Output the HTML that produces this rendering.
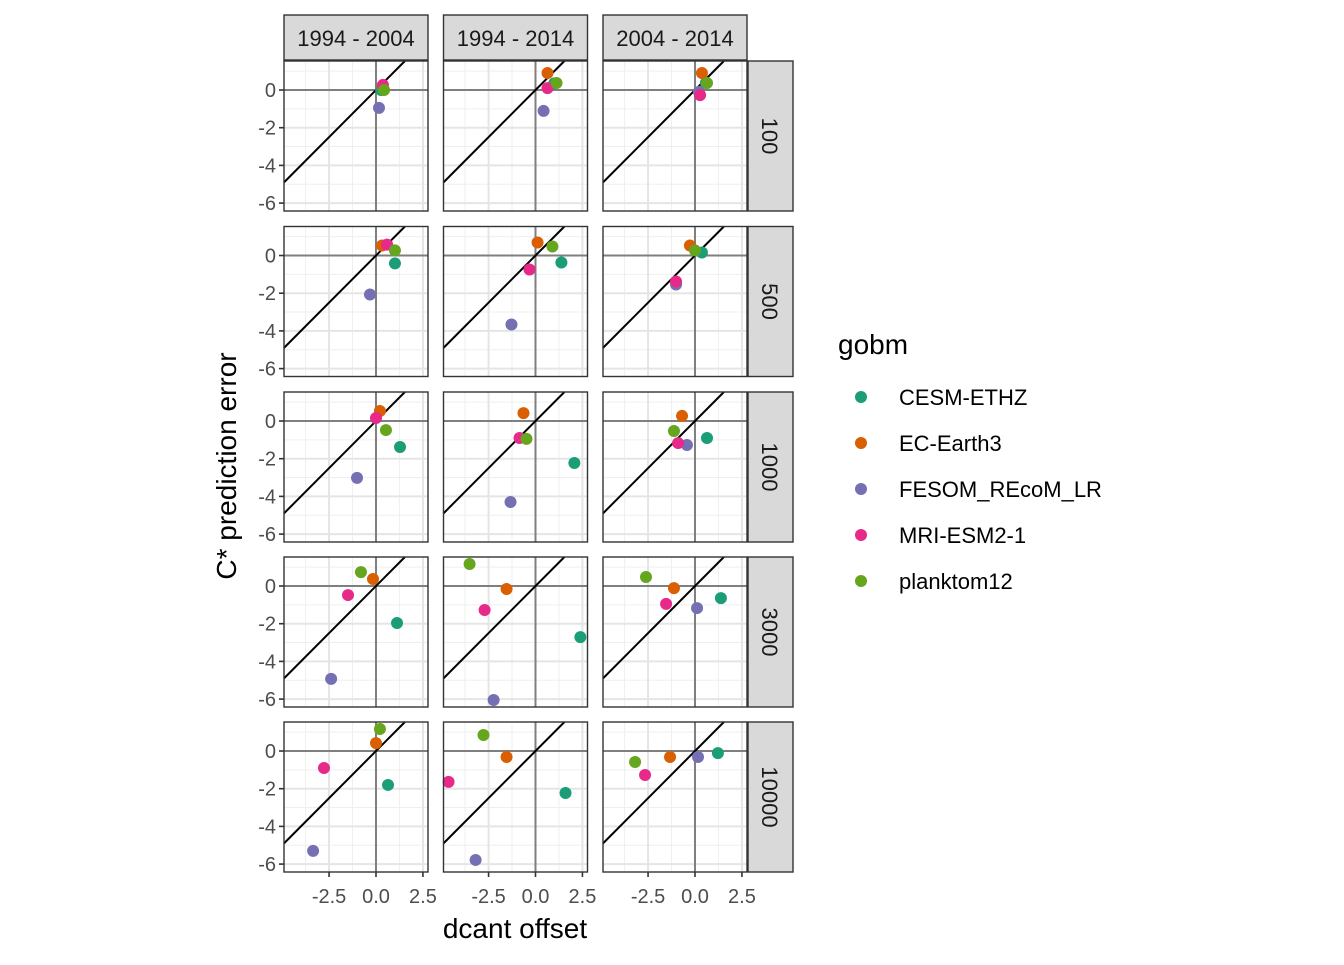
<!DOCTYPE html>
<html><head><meta charset="utf-8"><style>
body{margin:0;background:#fff;}
svg{font-family:"Liberation Sans",sans-serif;}
</style></head><body>
<svg id="chart" width="1344" height="960" xmlns="http://www.w3.org/2000/svg"></svg>
<script>
const gobms=["CESM-ETHZ","EC-Earth3","FESOM_REcoM_LR","MRI-ESM2-1","planktom12"];
const colors=["#1B9E77","#D95F02","#7570B3","#E7298A","#66A61E"];
const periods=["1994 - 2004","1994 - 2014","2004 - 2014"];
const depths=["100","500","1000","3000","10000"];
const xTicks=[-2.5,0,2.5];
const xTickLabels=["-2.5","0.0","2.5"];
const yTicks=[0,-2,-4,-6];
const yTickLabels=["0","-2","-4","-6"];
// xVals[depth][period][gobm], yVals likewise
const xVals=[
 [[0.27,0.35,0.16,0.37,0.43],[1.0,0.64,0.43,0.64,1.12],[0.58,0.37,0.21,0.27,0.64]],
 [[1.01,0.32,-0.32,0.59,1.01],[1.38,0.11,-1.28,-0.32,0.9],[0.37,-0.27,-1.01,-1.01,0.0]],
 [[1.28,0.21,-1.01,0.0,0.53],[2.07,-0.64,-1.33,-0.85,-0.48],[0.64,-0.69,-0.43,-0.9,-1.12]],
 [[1.12,-0.16,-2.39,-1.49,-0.8],[2.39,-1.54,-2.23,-2.71,-3.51],[1.38,-1.12,0.11,-1.54,-2.61]],
 [[0.64,0.0,-3.35,-2.77,0.21],[1.6,-1.54,-3.19,-4.63,-2.77],[1.22,-1.33,0.16,-2.66,-3.19]]
];
const yVals=[
 [[0.0,0.2,-0.95,0.27,0.0],[0.35,0.9,-1.11,0.1,0.37],[0.37,0.9,-0.1,-0.27,0.37]],
 [[-0.42,0.53,-2.07,0.58,0.27],[-0.37,0.69,-3.66,-0.74,0.48],[0.16,0.53,-1.54,-1.38,0.27]],
 [[-1.38,0.53,-3.02,0.16,-0.48],[-2.23,0.42,-4.3,-0.9,-0.95],[-0.9,0.27,-1.27,-1.17,-0.53]],
 [[-1.96,0.37,-4.93,-0.48,0.74],[-2.71,-0.16,-6.05,-1.27,1.17],[-0.64,-0.11,-1.17,-0.95,0.48]],
 [[-1.8,0.42,-5.3,-0.9,1.17],[-2.23,-0.32,-5.78,-1.64,0.85],[-0.11,-0.32,-0.32,-1.27,-0.58]]
];
const NS="http://www.w3.org/2000/svg";
const svg=document.getElementById("chart");
function mk(tag,attrs,parent,text){const e=document.createElementNS(NS,tag);for(const k in attrs)e.setAttribute(k,attrs[k]);if(text!==undefined)e.textContent=text;(parent||svg).appendChild(e);return e;}
const colX=[284,443.5,603],PW=144,rowY=[61,226.5,392,557,722],PH=150;
const xMin=-4.9,xMax=2.77,yMin=-6.42,yMax=1.54;
const sx=(c,v)=>colX[c]+(v-xMin)/(xMax-xMin)*PW;
const sy=(r,v)=>rowY[r]+(yMax-v)/(yMax-yMin)*PH;
for(let r=0;r<5;r++)for(let c=0;c<3;c++){
 const g=mk("g",{},svg);
 
 
 mk("rect",{x:colX[c],y:rowY[r],width:PW,height:PH,fill:"#fff"},g);
 for(const v of [-3.75,-1.25,1.25]){const X=sx(c,v);mk("line",{x1:X,x2:X,y1:rowY[r],y2:rowY[r]+PH,stroke:"#EFEFEF","stroke-width":1},g);}
 for(const v of [1,-1,-3,-5]){const Y=sy(r,v);mk("line",{x1:colX[c],x2:colX[c]+PW,y1:Y,y2:Y,stroke:"#EFEFEF","stroke-width":1},g);}
 for(const v of xTicks){const X=sx(c,v);mk("line",{x1:X,x2:X,y1:rowY[r],y2:rowY[r]+PH,stroke:"#E5E5E5","stroke-width":2},g);}
 for(const v of yTicks){const Y=sy(r,v);mk("line",{x1:colX[c],x2:colX[c]+PW,y1:Y,y2:Y,stroke:"#E5E5E5","stroke-width":2},g);}
 const h=mk("line",{x1:colX[c],x2:colX[c]+PW,y1:sy(r,0),y2:sy(r,0),stroke:"#7F7F7F","stroke-width":2},g);
 
 const vl=mk("line",{x1:sx(c,0),x2:sx(c,0),y1:rowY[r],y2:rowY[r]+PH,stroke:"#7F7F7F","stroke-width":2},g);
 
 const x1=xMin,x2=Math.min(xMax,yMax);
 const ab=mk("line",{x1:sx(c,x1),y1:sy(r,x1),x2:sx(c,x2),y2:sy(r,x2),stroke:"#000","stroke-width":2},g);
 
 for(let k=0;k<5;k++){
  const p=mk("circle",{cx:sx(c,xVals[r][c][k]),cy:sy(r,yVals[r][c][k]),r:6,fill:colors[k]},g);
  
  
 }
 mk("rect",{x:colX[c],y:rowY[r],width:PW,height:PH,fill:"none",stroke:"#333","stroke-width":1.4},g);
 if(c===0){for(let i=0;i<yTicks.length;i++){const Y=sy(r,yTicks[i]);mk("line",{x1:colX[0]-5,x2:colX[0],y1:Y,y2:Y,stroke:"#333","stroke-width":1.6},g);
  const t=mk("text",{x:colX[0]-8,y:Y+7,"text-anchor":"end","font-size":20,fill:"#4D4D4D"},g,yTickLabels[i]);
  }}
 if(r===4){for(let i=0;i<xTicks.length;i++){const X=sx(c,xTicks[i]);mk("line",{x1:X,x2:X,y1:rowY[4]+PH,y2:rowY[4]+PH+5,stroke:"#333","stroke-width":1.6},g);
  const t=mk("text",{x:X,y:rowY[4]+PH+31,"text-anchor":"middle","font-size":20,fill:"#4D4D4D"},g,xTickLabels[i]);
  }}
}
for(let c=0;c<3;c++){
 const s=mk("g",{});
 mk("rect",{x:colX[c],y:15,width:PW,height:45,fill:"#D9D9D9",stroke:"#333","stroke-width":1.4},s);
 mk("text",{x:colX[c]+PW/2,y:46,"text-anchor":"middle","font-size":22,fill:"#1A1A1A"},s,periods[c]);
}
for(let r=0;r<5;r++){
 const s=mk("g",{});
 mk("rect",{x:748,y:rowY[r],width:45,height:PH,fill:"#D9D9D9",stroke:"#333","stroke-width":1.4},s);
 const cy=rowY[r]+PH/2;
 mk("text",{x:762,y:cy,"text-anchor":"middle","font-size":22,fill:"#1A1A1A",transform:`rotate(90 762 ${cy})`},s,depths[r]);
}
const xt=mk("text",{x:515,y:938,"text-anchor":"middle","font-size":28,fill:"#000"},svg,"dcant offset");

const yt=mk("text",{x:236,y:466,"text-anchor":"middle","font-size":28,fill:"#000",transform:"rotate(-90 236 466)"},svg,"C* prediction error");

const lg=mk("g",{});
mk("text",{x:838,y:354,"font-size":28,fill:"#000"},lg,"gobm");
for(let k=0;k<5;k++){
 const e=mk("g",{},lg);
 const Y=397+k*46;
 mk("circle",{cx:861,cy:Y,r:6,fill:colors[k]},e);
 mk("text",{x:899,y:Y+8,"font-size":22,fill:"#000"},e,gobms[k]);
}
</script>
</body></html>
